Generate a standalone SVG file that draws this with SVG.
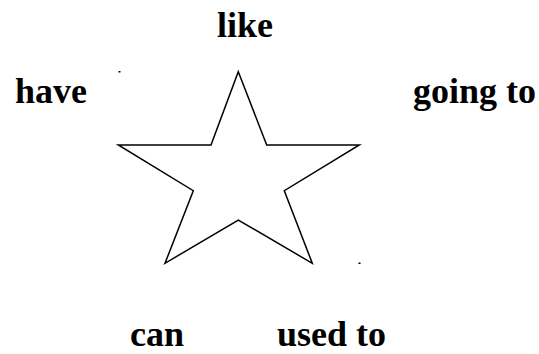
<svg xmlns="http://www.w3.org/2000/svg" width="539" height="354" viewBox="0 0 539 354">
<style>
.t{font-family:"Liberation Serif","Times New Roman",serif;font-weight:bold;font-size:36px;fill:#000}
.star{fill:#fff;stroke:#000;stroke-width:1.5;stroke-linejoin:miter}
</style>
<rect width="539" height="354" fill="#fff"/>
<g id="star">
<polygon class="star" points="238.3,71.7 266.7,145 359.3,145 284.3,190.7 312.3,263.3 238.3,220 165,263.3 193.3,190.7 118.3,145 211,145"/>
<rect x="118.5" y="71" width="2" height="1.5" fill="#000"/>
<rect x="358.5" y="262.5" width="2" height="1.5" fill="#000"/>
</g>
<g id="like"><text class="t" x="217" y="37">like</text></g>
<g id="have"><text class="t" x="15" y="103">have</text></g>
<g id="going-to"><text class="t" x="413" y="103">going to</text></g>
<g id="can"><text class="t" x="130" y="346">can</text></g>
<g id="used-to"><text class="t" x="277" y="346">used to</text></g>
</svg>
